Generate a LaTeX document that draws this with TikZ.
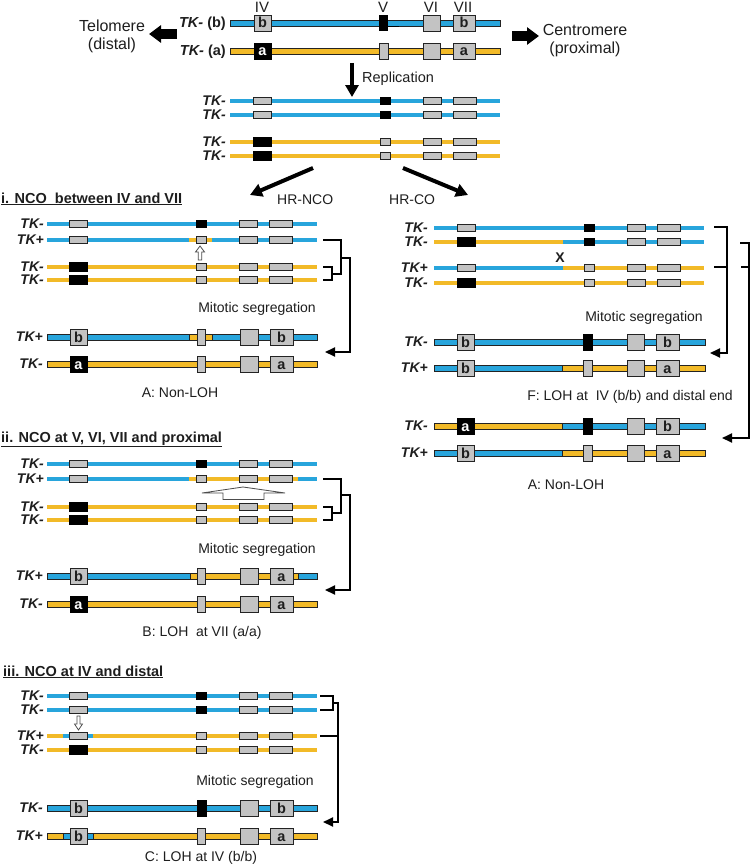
\documentclass[tikz,border=0pt]{standalone}
\usepackage{fontspec}
\setmainfont{Liberation Sans}
\usetikzlibrary{arrows.meta}
\definecolor{cblue}{RGB}{40,165,220}
\definecolor{cyel}{RGB}{242,186,40}
\definecolor{cgray}{RGB}{195,195,195}
\definecolor{cdark}{RGB}{35,35,35}
\definecolor{ctxt}{RGB}{30,30,30}
\newcounter{lnc}
\newcommand{\seg}[4]{\draw[tline,draw=#4] (#1,#3) -- (#2,#3);}
\newcommand{\sbx}[3]{\draw[sbox] (#1,#3-3.5) rectangle (#2,#3+3.5);}
\newcommand{\kbx}[3]{\draw[kbox] (#1,#3-4.5) rectangle (#2,#3+4.5);}
\newcommand{\ivS}[1]{\sbx{69}{87}{#1}}
\newcommand{\ivK}[1]{\kbx{69}{87}{#1}}
\newcommand{\vS}[1]{\sbx{196}{206}{#1}}
\newcommand{\vK}[1]{\draw[kbox] (196,#1-3.5) rectangle (206,#1+3.5);}
\newcommand{\vivii}[1]{\sbx{239}{257}{#1}\sbx{269}{292}{#1}}
\newcommand{\rbar}[4]{\draw[fill=#4,draw=cdark,line width=0.9pt] (#1,#3-3) rectangle (#2,#3+3);}
\newcommand{\rbx}[3]{\draw[sbox] (#1,#3-8) rectangle (#2,#3+8);}
\newcommand{\rkx}[3]{\draw[kbox] (#1,#3-8) rectangle (#2,#3+8);}
\newcommand{\rlet}[4]{\rbx{#1}{#2}{#3}\stepcounter{lnc}\node[letr] (lt\thelnc) at ({(#1+#2)/2},#3+5) {#4};}
\newcommand{\rklet}[4]{\rkx{#1}{#2}{#3}\stepcounter{lnc}\node[letr,text=white] (lt\thelnc) at ({(#1+#2)/2},#3+5) {#4};}
\newcommand{\tklab}[3]{\stepcounter{lnc}\node[lbl] (tk\thelnc) at (#1,#2+4.5) {#3};}
\begin{document}
\begin{tikzpicture}[x=1pt,y=-1pt,
  tline/.style={line width=4pt},
  sbox/.style={fill=cgray,draw=cdark,line width=0.9pt},
  kbox/.style={fill=black,draw=black,line width=0.9pt},
  letr/.style={font=\fontsize{14.5}{14.5}\selectfont\bfseries,anchor=base,inner sep=0pt,text=ctxt},
  lbl/.style={font=\fontsize{14}{14}\selectfont\bfseries\itshape,anchor=base east,inner sep=0pt,text=ctxt},
  txt/.style={font=\fontsize{14}{14}\selectfont,anchor=base,inner sep=0pt,text=ctxt},
  big/.style={font=\fontsize{16}{16}\selectfont,anchor=base,inner sep=0pt,text=ctxt},
  ttl/.style={font=\fontsize{14.5}{14.5}\selectfont\bfseries,anchor=base west,inner sep=0pt,text=ctxt},
  brk/.style={line width=2pt,draw=black},
  brka/.style={line width=2pt,draw=black,-{Triangle[length=10pt,width=9pt]}},
  fat/.style={line width=9.5pt,draw=black,-{Triangle[length=12pt,width=17pt]}},
  mid/.style={line width=4pt,draw=black,-{Triangle[length=12pt,width=13pt]}},
  hol/.style={fill=white,draw=black!70,line width=0.8pt},
  ]
\useasboundingbox (0,0) rectangle (750,867);
\fill[white] (0,0) rectangle (750,867);

% ---------- top: original chromosomes ----------
\node[big,font=\fontsize{15}{15}\selectfont] (nIV) at (262,12.5) {IV};
\node[big,font=\fontsize{15}{15}\selectfont] (nV) at (383,12.5) {V};
\node[big,font=\fontsize{15}{15}\selectfont] (nVI) at (431,12.5) {VI};
\node[big,font=\fontsize{15}{15}\selectfont] (nVII) at (463,12.5) {VII};
\node[lbl,font=\fontsize{14.5}{14.5}\selectfont\bfseries\itshape] (tkb) at (226,28) {TK- \upshape(b)};
\node[lbl,font=\fontsize{14.5}{14.5}\selectfont\bfseries\itshape] (tka) at (226,56) {TK- \upshape(a)};
\node[big] (telo1) at (112,32) {Telomere};
\node[big] (telo2) at (112,49.5) {(distal)};
\node[big] (cen1) at (585,36) {Centromere};
\node[big] (cen2) at (585,53.5) {(proximal)};
\draw[fat] (177,34) -- (149,34);
\draw[fat] (512,36) -- (539,36);

\begin{scope}[xshift=184pt]
\rbar{46}{316}{23}{cblue}
\rlet{70}{87}{23}{b}
\draw[kbox] (195,15.5) rectangle (203,30.5);
\draw[line width=1.3pt] (203,26.5) -- (215,26.5);
\rbx{239}{256}{23}
\rlet{269}{291}{23}{b}
\rbar{46}{316}{51}{cyel}
\rklet{70}{87}{51}{a}
\rbx{195}{204}{51}
\rbx{239}{256}{51}
\rlet{269}{291}{51}{a}
\end{scope}

% replication
\draw[mid] (352,63) -- (352,97);
\node[txt,anchor=base west,font=\fontsize{14.5}{14.5}\selectfont] (repl) at (362,82) {Replication};

\begin{scope}[xshift=184pt]
\seg{46}{316}{101}{cblue}\ivS{101}\vK{101}\vivii{101}
\seg{46}{316}{115}{cblue}\ivS{115}\vK{115}\vivii{115}
\seg{46}{316}{142}{cyel}\ivK{142}\vS{142}\vivii{142}
\seg{46}{316}{156}{cyel}\ivK{156}\vS{156}\vivii{156}
\tklab{42}{101}{TK-}
\tklab{42}{115}{TK-}
\tklab{42}{142}{TK-}
\tklab{42}{156}{TK-}
\end{scope}

\draw[mid] (313,168) -- (250,195);
\draw[mid] (403,168) -- (468,195);
\node[txt,anchor=base west] (hrnco) at (277,204) {HR-NCO};
\node[txt,anchor=base west] (hrco) at (389,204) {HR-CO};

% ---------- panel i ----------
\node[ttl] (ti) at (1,203) {\underline{i. NCO\ \ between IV and VII}};
\seg{47}{317}{224}{cblue}\ivS{224}\vK{224}\vivii{224}
\seg{47}{317}{240}{cblue}\seg{189}{212}{240}{cyel}\ivS{240}\vS{240}\vivii{240}
\seg{47}{317}{267}{cyel}\ivK{267}\vS{267}\vivii{267}
\seg{47}{317}{280}{cyel}\ivK{280}\vS{280}\vivii{280}
\tklab{44}{224}{TK-}\tklab{44}{240}{TK+}\tklab{44}{267}{TK-}\tklab{44}{280}{TK-}
\draw[hol] (200,246) -- (204.5,252) -- (201.7,252) -- (201.7,260) -- (198.3,260) -- (198.3,252) -- (195.5,252) -- cycle;
\draw[brk] (323,267) -- (332,267) -- (332,280) -- (323,280);
\draw[brk] (323,240) -- (341,240) -- (341,274) -- (332,274);
\draw[brka] (341,258) -- (350,258) -- (350,352) -- (325,352);
\node[txt] (msi) at (257,312) {Mitotic segregation};
\rbar{47}{317}{337}{cblue}\rbar{189}{212}{337}{cyel}
\rlet{70}{87}{337}{b}\rbx{197}{205}{337}\rbx{240}{258}{337}\rlet{270}{293}{337}{b}
\rbar{47}{317}{364}{cyel}
\rklet{70}{87}{364}{a}\rbx{197}{205}{364}\rbx{240}{258}{364}\rlet{270}{293}{364}{a}
\tklab{43}{337}{TK+}\tklab{43}{364}{TK-}
\node[txt] (capA1) at (180,397) {A: Non-LOH};

% ---------- panel ii ----------
\node[ttl] (tii) at (1,442) {\underline{ii. NCO\ at V,\ VI,\ VII and proximal}};
\seg{47}{317}{464}{cblue}\ivS{464}\vK{464}\vivii{464}
\seg{47}{317}{479}{cblue}\seg{189}{298}{479}{cyel}\ivS{479}\vS{479}\vivii{479}
\seg{47}{317}{507}{cyel}\ivK{507}\vS{507}\vivii{507}
\seg{47}{317}{520}{cyel}\ivK{520}\vS{520}\vivii{520}
\tklab{44}{464}{TK-}\tklab{44}{479}{TK+}\tklab{44}{507}{TK-}\tklab{44}{520}{TK-}
\draw[hol] (243,487) -- (285,493) -- (264,493) -- (264,499.5) -- (223,499.5) -- (223,493) -- (202,493) -- cycle;
\draw[brk] (323,507) -- (332,507) -- (332,520) -- (323,520);
\draw[brk] (323,479) -- (341,479) -- (341,513) -- (332,513);
\draw[brka] (341,495) -- (350,495) -- (350,590) -- (325,590);
\node[txt] (msii) at (257,553) {Mitotic segregation};
\rbar{47}{317}{576}{cblue}\rbar{190}{298}{576}{cyel}
\rlet{70}{87}{576}{b}\rbx{197}{205}{576}\rbx{240}{258}{576}\rlet{270}{293}{576}{a}
\rbar{47}{317}{604}{cyel}
\rklet{70}{87}{604}{a}\rbx{197}{205}{604}\rbx{240}{258}{604}\rlet{270}{293}{604}{a}
\tklab{43}{576}{TK+}\tklab{43}{604}{TK-}
\node[txt] (capB) at (202,636) {B: LOH\ \ at VII (a/a)};

% ---------- panel iii ----------
\node[ttl] (tiii) at (3,676) {\underline{iii. NCO\ at IV and distal}};
\seg{47}{317}{696}{cblue}\ivS{696}\vK{696}\vivii{696}
\seg{47}{317}{710}{cblue}\ivS{710}\vK{710}\vivii{710}
\seg{47}{317}{736}{cyel}\seg{63}{93}{736}{cblue}\ivS{736}\vS{736}\vivii{736}
\seg{47}{317}{750}{cyel}\ivK{750}\vS{750}\vivii{750}
\tklab{44}{696}{TK-}\tklab{44}{710}{TK-}\tklab{44}{736}{TK+}\tklab{44}{750}{TK-}
\draw[hol] (78.5,730) -- (82.5,724) -- (80,724) -- (80,716) -- (77,716) -- (77,724) -- (74.5,724) -- cycle;
\draw[brk] (320,696) -- (333,696) -- (333,710) -- (320,710);
\draw[brk] (333,703) -- (338,703);
\draw[brk] (320,736) -- (338,736);
\draw[brka] (338,702) -- (338,822) -- (323,822);
\node[txt] (msiii) at (255,785) {Mitotic segregation};
\rbar{47}{317}{808}{cblue}
\rlet{70}{87}{808}{b}\rkx{197}{206}{808}\rbx{240}{258}{808}\rlet{270}{293}{808}{b}
\rbar{47}{317}{836}{cyel}\rbar{63}{93}{836}{cblue}
\rlet{70}{87}{836}{b}\rbx{197}{205}{836}\rbx{240}{258}{836}\rlet{270}{293}{836}{a}
\tklab{43}{808}{TK-}\tklab{43}{836}{TK+}
\node[txt] (capC) at (201,861) {C: LOH at IV (b/b)};

% ---------- right panel: HR-CO ----------
\begin{scope}[xshift=388pt]
\seg{46}{316}{228}{cblue}\ivS{228}\vK{228}\vivii{228}
\seg{46}{316}{242}{cblue}\seg{46}{175}{242}{cyel}\ivK{242}\vK{242}\vivii{242}
\seg{46}{316}{268}{cyel}\seg{46}{175}{268}{cblue}\ivS{268}\vS{268}\vivii{268}
\seg{46}{316}{283}{cyel}\ivK{283}\vS{283}\vivii{283}
\tklab{40}{228}{TK-}\tklab{40}{242}{TK-}\tklab{40}{268}{TK+}\tklab{40}{283}{TK-}
\node[font=\fontsize{14}{14}\selectfont\bfseries,inner sep=0pt,text=ctxt] (xco) at (172,258) {X};
\rbar{46}{317}{342}{cblue}
\rlet{69}{86}{342}{b}\rkx{195}{204}{342}\rbx{239}{256}{342}\rlet{268}{291}{342}{b}
\rbar{46}{317}{368}{cblue}\rbar{174}{317}{368}{cyel}
\rlet{69}{86}{368}{b}\rbx{195}{204}{368}\rbx{239}{256}{368}\rlet{268}{291}{368}{a}
\rbar{46}{317}{426}{cyel}\rbar{174}{317}{426}{cblue}
\rklet{69}{86}{426}{a}\rkx{195}{204}{426}\rbx{239}{256}{426}\rlet{268}{291}{426}{b}
\rbar{46}{317}{453}{cblue}\rbar{174}{317}{453}{cyel}
\rlet{69}{86}{453}{b}\rbx{195}{204}{453}\rbx{239}{256}{453}\rlet{268}{291}{453}{a}
\tklab{40}{342}{TK-}\tklab{40}{368}{TK+}\tklab{40}{426}{TK-}\tklab{40}{453}{TK+}
\end{scope}
\draw[brk] (714,227) -- (727,227);
\draw[brk] (714,267) -- (727,267);
\draw[brka] (727,226) -- (727,353) -- (710,353);
\draw[brk] (740,243) -- (749,243);
\draw[brk] (741,267) -- (749,267);
\draw[brka] (749,242) -- (749,438) -- (722,438);
\node[txt] (msr) at (644,321) {Mitotic segregation};
\node[txt] (capF) at (630,400) {F: LOH at\ \ IV (b/b) and distal end};
\node[txt] (capA2) at (566,489) {A: Non-LOH};
\end{tikzpicture}
\end{document}
